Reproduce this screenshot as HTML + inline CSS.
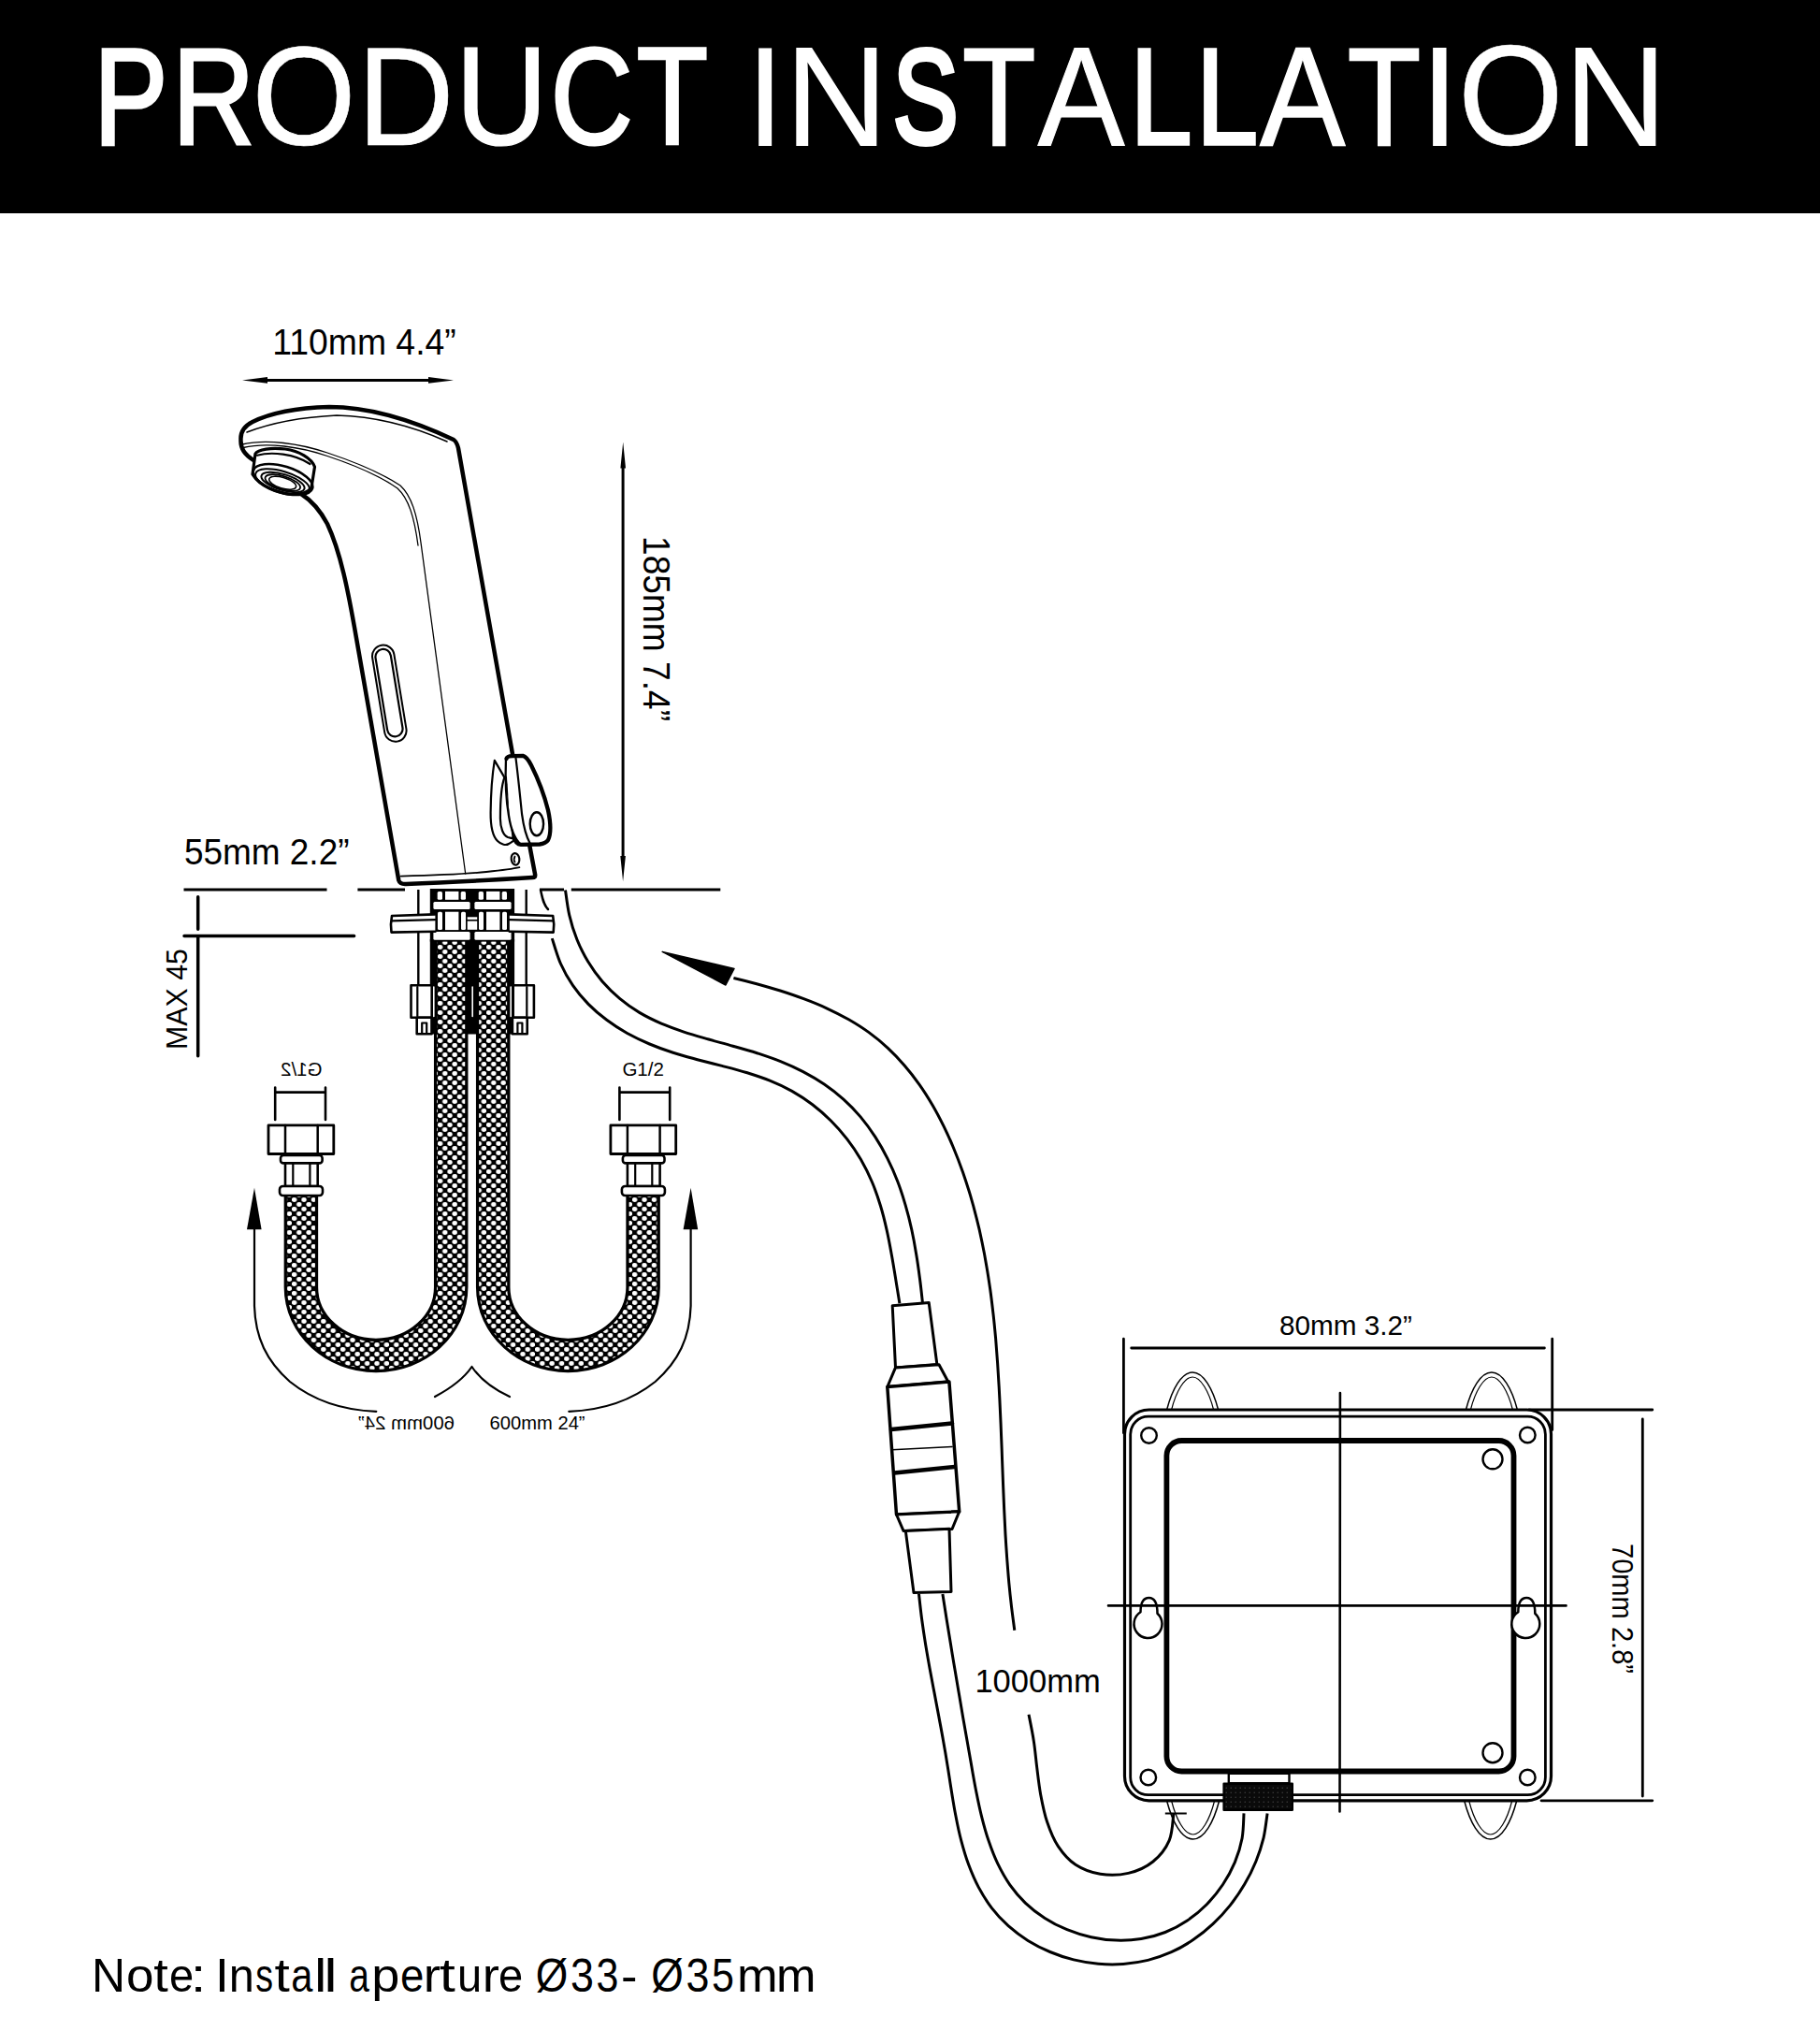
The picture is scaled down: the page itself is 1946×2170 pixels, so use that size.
<!DOCTYPE html>
<html><head><meta charset="utf-8"><title>Product Installation</title>
<style>
html,body{margin:0;padding:0;background:#fff;}
body{width:1946px;height:2170px;overflow:hidden;}
svg{display:block;}
text{font-family:"Liberation Sans",sans-serif;}
</style></head><body>
<svg width="1946" height="2170" viewBox="0 0 1946 2170">
<defs>
<pattern id="braid" width="10.4" height="10" patternUnits="userSpaceOnUse">
<rect width="10.4" height="10" fill="#000"/>
<ellipse cx="2.6" cy="2.5" rx="2.75" ry="2.45" fill="#fff"/>
<ellipse cx="7.8" cy="7.5" rx="2.75" ry="2.45" fill="#fff"/>
</pattern>
<pattern id="knurl" width="5" height="5" patternUnits="userSpaceOnUse">
<rect width="5" height="5" fill="#0a0a0a"/>
<circle cx="1.2" cy="1.2" r="0.7" fill="#444"/>
</pattern>
</defs>
<rect x="0" y="0" width="1946" height="228" fill="#000"/>
<text transform="translate(100.62,153.84) scale(0.8048,1)" font-size="146.63" fill="#fff" stroke="#fff" stroke-width="3.72" stroke-linejoin="miter">P</text>
<text transform="translate(184.32,154.11) scale(0.8268,1)" font-size="147.41" fill="#fff" stroke="#fff" stroke-width="3.18" stroke-linejoin="miter">R</text>
<text transform="translate(269.22,155.37) scale(0.9490,1)" font-size="151.08" fill="#fff" stroke="#fff" stroke-width="0.66" stroke-linejoin="miter">O</text>
<text transform="translate(381.66,155.40) scale(0.9531,1)" font-size="151.18" fill="#fff" stroke="#fff" stroke-width="0.59" stroke-linejoin="miter">D</text>
<text transform="translate(486.54,155.07) scale(0.9173,1)" font-size="150.22" fill="#fff" stroke="#fff" stroke-width="1.25" stroke-linejoin="miter">U</text>
<text transform="translate(588.85,154.09) scale(0.8256,1)" font-size="147.36" fill="#fff" stroke="#fff" stroke-width="3.21" stroke-linejoin="miter">C</text>
<text transform="translate(680.52,154.35) scale(0.8479,1)" font-size="148.12" fill="#fff" stroke="#fff" stroke-width="2.70" stroke-linejoin="miter">T</text>
<text transform="translate(800.14,154.62) scale(0.8660,1)" font-size="148.89" fill="#fff" stroke="#fff" stroke-width="2.17" stroke-linejoin="miter">I</text>
<text transform="translate(838.79,155.70) scale(1.0115,1)" font-size="152.04" fill="#fff">N</text>
<text transform="translate(954.87,152.79) scale(0.7290,1)" font-size="143.59" fill="#fff" stroke="#fff" stroke-width="5.81" stroke-linejoin="miter">S</text>
<text transform="translate(1028.93,154.52) scale(0.8636,1)" font-size="148.62" fill="#fff" stroke="#fff" stroke-width="2.35" stroke-linejoin="miter">T</text>
<text transform="translate(1109.42,155.17) scale(0.9271,1)" font-size="150.49" fill="#fff" stroke="#fff" stroke-width="1.07" stroke-linejoin="miter">A</text>
<text transform="translate(1208.14,153.94) scale(0.8126,1)" font-size="146.91" fill="#fff" stroke="#fff" stroke-width="3.53" stroke-linejoin="miter">L</text>
<text transform="translate(1278.80,153.96) scale(0.8142,1)" font-size="146.97" fill="#fff" stroke="#fff" stroke-width="3.49" stroke-linejoin="miter">L</text>
<text transform="translate(1346.93,155.04) scale(0.9141,1)" font-size="150.13" fill="#fff" stroke="#fff" stroke-width="1.31" stroke-linejoin="miter">A</text>
<text transform="translate(1440.73,154.52) scale(0.8636,1)" font-size="148.62" fill="#fff" stroke="#fff" stroke-width="2.35" stroke-linejoin="miter">T</text>
<text transform="translate(1518.05,155.70) scale(1.0085,1)" font-size="152.04" fill="#fff">I</text>
<text transform="translate(1558.90,155.44) scale(0.9568,1)" font-size="151.28" fill="#fff" stroke="#fff" stroke-width="0.52" stroke-linejoin="miter">O</text>
<text transform="translate(1672.01,155.70) scale(1.0091,1)" font-size="152.04" fill="#fff">N</text>
<text transform="translate(98.00,2128.70) scale(1.0167,1)" font-size="49.13" fill="#000">N</text>
<text transform="translate(134.88,2128.70) scale(1.0777,1)" font-size="49.13" fill="#000">o</text>
<text transform="translate(164.15,2128.70) scale(1.1398,1)" font-size="49.13" fill="#000">t</text>
<text transform="translate(180.90,2128.70) scale(0.9587,1)" font-size="49.13" fill="#000">e</text>
<text transform="translate(203.83,2128.70) scale(1.2185,1)" font-size="49.13" fill="#000">:</text>
<text transform="translate(230.05,2128.70) scale(1.0913,1)" font-size="49.13" fill="#000">I</text>
<text transform="translate(244.66,2128.70) scale(0.9918,1)" font-size="49.13" fill="#000">n</text>
<text transform="translate(273.25,2128.70) scale(0.7656,1)" font-size="49.13" fill="#000">s</text>
<text transform="translate(293.41,2128.70) scale(1.1956,1)" font-size="49.13" fill="#000">t</text>
<text transform="translate(311.13,2128.70) scale(0.8480,1)" font-size="49.13" fill="#000">a</text>
<text transform="translate(335.94,2128.70) scale(1.2274,1)" font-size="49.13" fill="#000">l</text>
<text transform="translate(346.33,2128.70) scale(1.3201,1)" font-size="49.13" fill="#000">l</text>
<text transform="translate(373.35,2128.70) scale(0.7925,1)" font-size="49.13" fill="#000">a</text>
<text transform="translate(397.22,2128.70) scale(1.0999,1)" font-size="49.13" fill="#000">p</text>
<text transform="translate(428.06,2128.70) scale(0.9283,1)" font-size="49.13" fill="#000">e</text>
<text transform="translate(452.79,2128.70) scale(1.1073,1)" font-size="49.13" fill="#000">r</text>
<text transform="translate(469.77,2128.70) scale(1.2514,1)" font-size="49.13" fill="#000">t</text>
<text transform="translate(489.04,2128.70) scale(0.9583,1)" font-size="49.13" fill="#000">u</text>
<text transform="translate(515.69,2128.70) scale(1.1073,1)" font-size="49.13" fill="#000">r</text>
<text transform="translate(533.00,2128.70) scale(0.9587,1)" font-size="49.13" fill="#000">e</text>
<text transform="translate(572.86,2128.70) scale(0.9037,1)" font-size="49.13" fill="#000">Ø</text>
<text transform="translate(610.09,2128.70) scale(0.9144,1)" font-size="49.13" fill="#000">3</text>
<text transform="translate(637.46,2128.70) scale(0.8758,1)" font-size="49.13" fill="#000">3</text>
<text transform="translate(663.97,2128.70) scale(1.0672,1)" font-size="49.13" fill="#000">-</text>
<text transform="translate(696.36,2128.70) scale(0.9037,1)" font-size="49.13" fill="#000">Ø</text>
<text transform="translate(733.59,2128.70) scale(0.9144,1)" font-size="49.13" fill="#000">3</text>
<text transform="translate(760.88,2128.70) scale(0.8758,1)" font-size="49.13" fill="#000">5</text>
<text transform="translate(788.02,2128.70) scale(1.0661,1)" font-size="49.13" fill="#000">m</text>
<text transform="translate(829.92,2128.70) scale(1.0371,1)" font-size="49.13" fill="#000">m</text>
<g fill="#000">
<text x="291.3" y="379.3" font-size="38.5" textLength="196.4" lengthAdjust="spacingAndGlyphs">110mm 4.4”</text>
<text x="196.9" y="923.9" font-size="38" textLength="176.6" lengthAdjust="spacingAndGlyphs">55mm 2.2”</text>
<text transform="translate(687.5,573) rotate(90)" x="0" y="0" font-size="41.5" textLength="198" lengthAdjust="spacingAndGlyphs">185mm 7.4”</text>
<text transform="translate(199.9,1122) rotate(-90)" x="0" y="0" font-size="31" textLength="108" lengthAdjust="spacingAndGlyphs">MAX 45</text>
<text x="1042.4" y="1808.5" font-size="35.5" textLength="134.4" lengthAdjust="spacingAndGlyphs">1000mm</text>
<text x="1368" y="1427" font-size="30" textLength="142" lengthAdjust="spacingAndGlyphs">80mm 3.2”</text>
<text transform="translate(1723.9,1650) rotate(90)" x="0" y="0" font-size="31.5" textLength="139" lengthAdjust="spacingAndGlyphs">70mm 2.8”</text>
<text x="523.6" y="1528.4" font-size="21" textLength="102" lengthAdjust="spacingAndGlyphs">600mm 24”</text>
<text transform="translate(486,1528.4) scale(-1,1)" x="0" y="0" font-size="21" textLength="103" lengthAdjust="spacingAndGlyphs">600mm 24”</text>
<text x="665.4" y="1149.5" font-size="21" textLength="44.5" lengthAdjust="spacingAndGlyphs">G1/2</text>
<text transform="translate(344.6,1149.5) scale(-1,1)" x="0" y="0" font-size="21" textLength="44.5" lengthAdjust="spacingAndGlyphs">G1/2</text>
</g>
<g id="drawing" fill="none" stroke="#000" stroke-linecap="round" stroke-linejoin="round">
<!-- FAUCET -->
<g id="faucet">
<!-- outer outline -->
<path stroke-width="4.5" d="M 271,492 C 262,486 257,480 257.5,470 C 257,461 262,455 270,451 C 290,441 318,436 352,435 C 388,435 430,444 485,470 C 488,472 489,475 490,479 L 548,806"/>
<path stroke-width="4.5" d="M 566.3,904 L 572.2,935.2 C 572.3,937.2 571.3,938 569.5,938.1 C 530,940.5 475,943.5 434,945 C 429.5,945.2 427,943.5 426.3,941 L 381,682 C 372,630 364,590 350,560 C 342,545 333,535 322,528"/>
<!-- top thin line -->
<path stroke-width="1.6" d="M 264,462 C 290,452 320,446 360,444 C 400,445 440,455 478,472"/>
<!-- spout inner thin double line -->
<path stroke-width="1.3" d="M 259,475 C 285,469 320,474 350,484 C 380,494 410,507 428,519 C 440,530 446,550 450,580 L 497.7,934"/>
<path stroke-width="1.3" d="M 260,478.5 C 286,472.5 321,477.5 350,487.5 C 380,497.5 408,510 425,522 C 437,533 443,553 447,583"/>
<!-- bottom thin line -->
<path stroke-width="1.8" d="M 428.8,936.6 C 460,935.8 500,934 520,932 C 535,930.5 548,929 555.4,927.2"/>
<!-- aerator -->
<path stroke-width="3.2" fill="#fff" d="M 270,507 L 273,485 C 276,480 290,478.5 305,480 C 320,482 333,490 336.5,499 L 333,521 C 330,526 322,528.5 312,528.5 C 296,527 278,520 270,507 Z"/>
<path stroke-width="2.2" d="M 275,486.8 C 290,482.5 315,485 331.5,496"/>
<ellipse stroke-width="2.6" cx="302.5" cy="512.5" rx="33" ry="14" transform="rotate(17 302.5 512.5)"/>
<ellipse stroke-width="2" cx="302" cy="515" rx="30" ry="11" transform="rotate(17 302 515)"/>
<ellipse stroke-width="2" cx="302.5" cy="515.5" rx="24" ry="8.5" transform="rotate(17 302.5 515.5)"/>
<ellipse stroke-width="1.8" cx="302.3" cy="516" rx="19.5" ry="7" transform="rotate(17 302.3 516)"/>
<ellipse stroke-width="1.6" cx="302.2" cy="516.2" rx="15" ry="5.8" transform="rotate(17 302.2 516.2)"/>
<!-- sensor window -->
<rect stroke-width="2" x="404.55" y="689.1" width="23.5" height="104.2" rx="11.75" transform="rotate(-9.3 416.3 741.2)"/>
<rect stroke-width="2.2" x="407.75" y="693.35" width="16.5" height="94.5" rx="8.25" transform="rotate(-9.3 416 740.6)"/>
<!-- handle -->
<path stroke-width="2.2" fill="#fff" d="M 528.8,812.9 L 539.3,830.9 L 541,831 L 549,898.8 C 548,899.5 546,901 544,902 C 541,904 536,903 532,899 C 526,893 524.5,880 524.6,868.7 C 524.8,850 526,830 528.8,812.9 Z"/>
<path stroke-width="2.2" d="M 539.3,831.5 C 536,840 534.9,855 534.9,875.1 C 535,885 538,893 543,895 C 546,896 548,896.2 549,896.2"/>
<path stroke-width="0" fill="#fff" d="M 541,810 L 559,808 L 587,870 L 586,900 L 557,903 L 545,880 Z"/>
<path stroke-width="2.3" d="M 541,810 C 540.2,830 541,855 544,872 C 546,885 549,896 557,902.8"/>
<path stroke-width="4.3" d="M 541.5,811 C 542,808.8 544.5,808.2 548,808.1 L 559.2,807.8 C 562,808.5 565,812 568,818 C 575,832 582,850 586,866 C 589,880 589,892 586,898 C 584,901 581,902 577,902.5 L 557,902.8 C 553,902.5 550.5,899 549.6,895"/>
<path stroke-width="2.2" d="M 551.5,810.4 C 554,830 556,850 558,870 C 560,885 563,895 566.9,902"/>
<ellipse stroke-width="2.4" cx="573.9" cy="880.8" rx="7.2" ry="12.5"/>
<!-- screw -->
<ellipse stroke-width="2.2" cx="551" cy="918.3" rx="4.3" ry="6.3" transform="rotate(-8 551 918.3)"/>
<path stroke-width="1.8" d="M 550.5,915.5 C 549.5,917.5 549.5,920 550.5,921.5"/>
</g>

<g id="dims">
<path stroke-width="3" d="M 275,406.4 L 470,406.4"/>
<path fill="#000" stroke="none" d="M 259,406.4 L 286,403 L 286,409.8 Z M 485,406.4 L 458,403 L 458,409.8 Z"/>
<path stroke-width="3" d="M 666.1,495 L 666.1,920"/>
<path fill="#000" stroke="none" d="M 666.2,472.4 L 663.4,500.4 L 669,500.4 Z M 666.1,942.3 L 663.3,915 L 668.9,915 Z"/>
<path stroke-width="3" stroke-linecap="butt" d="M 196.5,951 L 349.5,951 M 382.4,951 L 433,951 M 577,951 L 603,951 M 610.8,951 L 770.3,951"/>
<path stroke-width="2.5" d="M 578,951.3 C 580,960 581,967 586,972"/>
<path stroke-width="3.5" d="M 211.7,958.7 L 211.7,993.2 M 197,1000.6 L 378.6,1000.6 M 211.7,1001 L 211.7,1128.7"/>
</g>
<g id="hoses">
<path stroke="#000" stroke-width="36.5" stroke-linecap="butt" d="M 482.2,1000.0 L 482.2,1376.0 C 482.2,1416.3 446.3,1449.0 402.0,1449.0 C 357.8,1449.0 321.9,1416.3 321.9,1376.0 L 321.9,1277.0"/>
<path stroke="url(#braid)" stroke-width="30" stroke-linecap="butt" d="M 482.2,1000.0 L 482.2,1376.0 C 482.2,1416.3 446.3,1449.0 402.0,1449.0 C 357.8,1449.0 321.9,1416.3 321.9,1376.0 L 321.9,1277.0"/>
<path stroke="#000" stroke-width="36.5" stroke-linecap="butt" d="M 687.6,1277.0 L 687.6,1376.0 C 687.6,1416.3 651.7,1449.0 607.4,1449.0 C 563.1,1449.0 527.2,1416.3 527.2,1376.0 L 527.2,1000.0"/>
<path stroke="url(#braid)" stroke-width="30" stroke-linecap="butt" d="M 687.6,1277.0 L 687.6,1376.0 C 687.6,1416.3 651.7,1449.0 607.4,1449.0 C 563.1,1449.0 527.2,1416.3 527.2,1376.0 L 527.2,1000.0"/>
</g>
<g id="mount">
<rect x="459.8" y="950" width="90.3" height="56.6" fill="#000" stroke="none"/>
<rect x="459.8" y="1004" width="8" height="101.5" fill="#000" stroke="none"/>
<rect x="542.5" y="1004" width="7.6" height="101.5" fill="#000" stroke="none"/>
<rect x="498.4" y="1004" width="13.2" height="101.5" fill="#000" stroke="none"/>
<rect x="467.7" y="952.9" width="5.3" height="8.9" rx="1.5" fill="#fff" stroke="none"/>
<rect x="476.0" y="952.9" width="14.4" height="8.9" fill="#fff" stroke="none"/>
<rect x="492.7" y="952.9" width="5.3" height="8.9" rx="1.5" fill="#fff" stroke="none"/>
<rect x="463.4" y="964.1" width="39.2" height="7.9" rx="1.5" fill="#fff" stroke="none"/>
<rect x="468.0" y="974.7" width="5" height="19.4" rx="1.5" fill="#fff" stroke="none"/>
<rect x="476.0" y="974.7" width="14.4" height="19.4" fill="#fff" stroke="none"/>
<rect x="493.0" y="974.7" width="5" height="19.4" rx="1.5" fill="#fff" stroke="none"/>
<rect x="463.4" y="996.1" width="39.2" height="8.6" rx="1.5" fill="#fff" stroke="none"/>
<rect x="511.7" y="952.9" width="5.3" height="8.9" rx="1.5" fill="#fff" stroke="none"/>
<rect x="520.0" y="952.9" width="14.4" height="8.9" fill="#fff" stroke="none"/>
<rect x="536.7" y="952.9" width="5.3" height="8.9" rx="1.5" fill="#fff" stroke="none"/>
<rect x="507.4" y="964.1" width="39.2" height="7.9" rx="1.5" fill="#fff" stroke="none"/>
<rect x="512.0" y="974.7" width="5" height="19.4" rx="1.5" fill="#fff" stroke="none"/>
<rect x="520.0" y="974.7" width="14.4" height="19.4" fill="#fff" stroke="none"/>
<rect x="537.0" y="974.7" width="5" height="19.4" rx="1.5" fill="#fff" stroke="none"/>
<rect x="507.4" y="996.1" width="39.2" height="8.6" rx="1.5" fill="#fff" stroke="none"/>
<rect x="499.7" y="980.3" width="10.5" height="2.6" fill="#fff" stroke="none"/>
<rect x="499.7" y="984.6" width="10.5" height="9.2" fill="#fff" stroke="none"/>
<path stroke="#fff" stroke-width="1.6" d="M 505.2,1055 L 505.2,1086.5 M 463.8,1055 L 463.8,1086.5 M 546.2,1055 L 546.2,1086.5"/>
<path stroke-width="2.4" stroke-linecap="butt" d="M 447.3,951 L 447.3,978 M 447.3,996 L 447.3,1053 M 562.7,951 L 562.7,978 M 562.7,996 L 562.7,1053"/>
<path stroke-width="2.6" fill="#fff" d="M 465.4,977.4 L 419,979 C 418,984 417.5,990 418.5,996.6 L 465.4,995.8"/>
<path stroke-width="2.2" d="M 419,984.3 L 465.4,983.2"/>
<path stroke-width="2.6" fill="#fff" d="M 544.8,977.4 L 591.2,979 C 592.2,984 592.7,990 591.7,996.6 L 544.8,995.8"/>
<path stroke-width="2.2" d="M 591.2,984.3 L 544.8,983.2"/>
<rect x="439.5" y="1053.2" width="22.2" height="34.6" fill="#fff" stroke-width="2.6"/>
<rect x="445.7" y="1087.8" width="15.8" height="17.5" fill="#fff" stroke-width="2.6"/>
<path stroke-width="2.2" d="M 451.2,1104 L 451.2,1093.5 L 456.2,1093.5 L 456.2,1104"/>
<rect x="548.7" y="1053.2" width="22.2" height="34.6" fill="#fff" stroke-width="2.6"/>
<rect x="547.9" y="1087.8" width="15.8" height="17.5" fill="#fff" stroke-width="2.6"/>
<path stroke-width="2.2" d="M 553.4,1104 L 553.4,1093.5 L 558.4,1093.5 L 558.4,1104"/>
<path stroke-width="2.2" d="M 446.3,1055 L 446.3,1086 M 563.3,1055 L 563.3,1086"/>
</g>
<g id="fittings">
<rect x="287.0" y="1202.9" width="69.8" height="30.6" fill="#fff" stroke-width="2.8"/>
<path stroke-width="2.5" d="M 305.0,1203 L 305.0,1233.5 M 339.7,1203 L 339.7,1233.5"/>
<rect x="300.0" y="1235" width="44.6" height="8.4" rx="3" fill="#fff" stroke-width="2.6"/>
<rect x="305.0" y="1243.4" width="34.7" height="24.6" fill="#fff" stroke-width="2.6"/>
<path stroke-width="2.2" d="M 313.3,1244 L 313.3,1267.5 M 331.4,1244 L 331.4,1267.5"/>
<rect x="299.0" y="1268" width="46" height="10" rx="3.5" fill="#fff" stroke-width="2.6"/>
<path stroke-width="2.6" d="M 294.2,1162.6 L 294.2,1197 M 348.0,1162.6 L 348.0,1197 M 294.2,1167.6 L 348.0,1167.6"/>
<rect x="652.9" y="1202.9" width="69.8" height="30.6" fill="#fff" stroke-width="2.8"/>
<path stroke-width="2.5" d="M 670.9,1203 L 670.9,1233.5 M 705.6,1203 L 705.6,1233.5"/>
<rect x="665.9" y="1235" width="44.6" height="8.4" rx="3" fill="#fff" stroke-width="2.6"/>
<rect x="670.9" y="1243.4" width="34.7" height="24.6" fill="#fff" stroke-width="2.6"/>
<path stroke-width="2.2" d="M 679.2,1244 L 679.2,1267.5 M 697.3,1244 L 697.3,1267.5"/>
<rect x="664.9" y="1268" width="46" height="10" rx="3.5" fill="#fff" stroke-width="2.6"/>
<path stroke-width="2.6" d="M 662.4,1162.6 L 662.4,1197 M 716.2,1162.6 L 716.2,1197 M 662.4,1167.6 L 716.2,1167.6"/>
</g>
<g id="harrows">
<path stroke-width="2.2" d="M 272,1300 L 272,1396 C 273,1430 285,1455 310,1477 C 335,1497 365,1507.5 402.3,1508.8"/>
<path fill="#000" stroke="none" d="M 272,1269.8 L 264,1314.3 L 279.6,1314.3 Z"/>
<path stroke-width="2.2" d="M 738.6,1300 L 738.6,1396 C 737.6,1430 725.6,1455 700.6,1477 C 675.6,1497 645.6,1507.5 608.3,1508.8"/>
<path fill="#000" stroke="none" d="M 738.6,1269.8 L 730.6,1314.3 L 746.2,1314.3 Z"/>
<path stroke-width="2.2" d="M 465,1493 C 480,1485 495,1475 504.5,1461 C 514,1475 530,1486 545,1493"/>
</g>
<g id="cable" stroke-width="3" stroke-linecap="butt">
<path d="M 604.5,951.4 C 605.2,955.9 606.7,969.6 608.8,978.4 C 610.8,987.2 613.6,995.9 616.9,1004.2 C 620.2,1012.4 624.2,1020.5 628.8,1028.0 C 633.3,1035.5 638.5,1042.6 644.1,1049.2 C 649.8,1055.7 656.0,1061.9 662.6,1067.4 C 669.2,1073.0 676.3,1078.0 683.7,1082.4 C 691.1,1086.8 699.0,1090.6 707.1,1094.1 C 715.1,1097.5 723.5,1100.4 731.9,1103.3 C 740.4,1106.1 749.1,1108.5 757.7,1111.0 C 766.3,1113.5 775.1,1115.7 783.7,1118.2 C 792.3,1120.6 801.0,1123.0 809.5,1125.7 C 817.9,1128.5 826.4,1131.3 834.6,1134.6 C 842.8,1137.9 850.9,1141.5 858.7,1145.6 C 866.5,1149.7 874.1,1154.1 881.3,1159.0 C 888.5,1163.9 895.4,1169.3 901.9,1175.1 C 908.4,1180.9 914.4,1187.2 920.1,1193.9 C 925.7,1200.6 930.9,1207.7 935.7,1215.1 C 940.5,1222.5 944.9,1230.3 948.9,1238.3 C 952.9,1246.2 956.5,1254.4 959.7,1262.7 C 962.9,1271.0 965.6,1279.5 968.1,1288.1 C 970.6,1296.6 972.8,1305.3 974.7,1314.0 C 976.6,1322.7 978.2,1331.5 979.6,1340.2 C 981.1,1348.9 982.3,1357.7 983.4,1366.3 C 984.6,1375.0 985.9,1387.8 986.4,1392.1"/>
<path d="M 590.3,1003.1 C 591.8,1007.6 595.7,1021.6 599.4,1030.0 C 603.1,1038.4 607.5,1046.1 612.5,1053.3 C 617.5,1060.6 623.1,1067.2 629.1,1073.4 C 635.1,1079.5 641.7,1085.2 648.7,1090.3 C 655.6,1095.5 663.0,1100.2 670.6,1104.5 C 678.3,1108.7 686.3,1112.6 694.5,1116.0 C 702.7,1119.5 711.2,1122.5 719.7,1125.2 C 728.3,1128.0 737.0,1130.3 745.7,1132.7 C 754.5,1135.0 763.3,1137.1 772.0,1139.4 C 780.8,1141.7 789.5,1143.9 798.0,1146.5 C 806.5,1149.2 815.0,1151.8 823.1,1155.2 C 831.3,1158.5 839.2,1162.2 846.8,1166.4 C 854.4,1170.7 861.7,1175.5 868.7,1180.8 C 875.6,1186.1 882.2,1191.8 888.4,1198.0 C 894.6,1204.1 900.4,1210.8 905.7,1217.7 C 911.1,1224.6 916.0,1232.0 920.5,1239.6 C 924.9,1247.3 928.9,1255.3 932.4,1263.5 C 935.9,1271.7 938.8,1280.2 941.4,1288.8 C 944.1,1297.4 946.2,1306.3 948.2,1315.1 C 950.2,1323.9 951.8,1332.9 953.4,1341.7 C 955.0,1350.5 956.4,1359.3 957.8,1367.9 C 959.2,1376.5 961.2,1389.0 961.9,1393.2"/>
<path d="M 784.4,1045.5 C 788.6,1046.5 800.8,1049.5 809.1,1051.7 C 817.4,1054.0 825.9,1056.4 834.2,1059.0 C 842.6,1061.7 851.1,1064.5 859.3,1067.7 C 867.6,1070.8 875.9,1074.1 883.9,1077.8 C 891.9,1081.5 899.8,1085.5 907.4,1089.8 C 915.0,1094.2 922.4,1098.8 929.4,1103.9 C 936.4,1109.0 943.0,1114.5 949.3,1120.3 C 955.6,1126.1 961.5,1132.4 967.1,1138.9 C 972.8,1145.4 978.0,1152.2 983.0,1159.3 C 988.0,1166.3 992.6,1173.7 997.0,1181.2 C 1001.4,1188.7 1005.4,1196.5 1009.3,1204.3 C 1013.1,1212.1 1016.7,1220.2 1020.0,1228.2 C 1023.4,1236.3 1026.5,1244.5 1029.4,1252.7 C 1032.2,1260.8 1034.9,1269.1 1037.4,1277.4 C 1039.9,1285.7 1042.1,1294.0 1044.2,1302.4 C 1046.4,1310.8 1048.3,1319.2 1050.0,1327.7 C 1051.8,1336.1 1053.4,1344.6 1054.8,1353.2 C 1056.3,1361.7 1057.6,1370.3 1058.8,1378.8 C 1060.0,1387.4 1061.0,1396.0 1062.0,1404.7 C 1063.0,1413.3 1063.8,1422.0 1064.6,1430.7 C 1065.3,1439.4 1066.0,1448.1 1066.6,1456.8 C 1067.2,1465.5 1067.7,1474.2 1068.2,1482.9 C 1068.7,1491.7 1069.1,1500.4 1069.5,1509.2 C 1069.9,1517.9 1070.3,1526.7 1070.6,1535.4 C 1071.0,1544.2 1071.3,1552.9 1071.6,1561.7 C 1071.9,1570.4 1072.2,1579.1 1072.6,1587.9 C 1072.9,1596.6 1073.3,1605.3 1073.7,1614.0 C 1074.1,1622.7 1074.5,1631.4 1075.0,1640.1 C 1075.5,1648.7 1076.1,1657.4 1076.7,1666.0 C 1077.4,1674.6 1078.0,1683.2 1078.8,1691.8 C 1079.6,1700.4 1080.5,1708.9 1081.5,1717.4 C 1082.5,1725.9 1084.3,1738.6 1084.8,1742.8"/>
<path fill="#000" stroke="#000" stroke-width="1.5" stroke-linejoin="round" d="M 708.2,1017.4 L 785,1035.5 L 775.9,1053 Z"/>
<path d="M 1007.9,1703.9 C 1008.6,1708.3 1010.7,1721.9 1012.1,1730.7 C 1013.5,1739.6 1014.9,1748.4 1016.4,1757.1 C 1017.8,1765.8 1019.2,1774.4 1020.7,1783.1 C 1022.1,1791.7 1023.6,1800.3 1025.1,1809.0 C 1026.6,1817.6 1028.0,1826.2 1029.5,1834.9 C 1031.0,1843.6 1032.6,1852.3 1034.1,1861.1 C 1035.6,1869.9 1037.2,1878.8 1038.8,1887.8 C 1040.3,1896.7 1041.9,1905.8 1043.7,1914.8 C 1045.5,1923.8 1047.3,1932.9 1049.6,1941.8 C 1051.8,1950.6 1054.2,1959.4 1057.1,1967.8 C 1060.0,1976.3 1063.1,1984.6 1066.9,1992.4 C 1070.7,2000.2 1074.9,2007.8 1079.8,2014.8 C 1084.8,2021.8 1090.3,2028.4 1096.5,2034.3 C 1102.7,2040.3 1109.8,2045.7 1117.2,2050.4 C 1124.6,2055.2 1132.6,2059.3 1140.9,2062.7 C 1149.1,2066.1 1157.9,2068.8 1166.7,2070.7 C 1175.4,2072.6 1184.5,2073.8 1193.4,2074.1 C 1202.4,2074.4 1211.5,2073.9 1220.2,2072.5 C 1228.9,2071.1 1237.7,2068.8 1245.9,2065.5 C 1254.1,2062.3 1262.1,2058.0 1269.5,2053.0 C 1276.9,2048.0 1284.0,2042.1 1290.3,2035.7 C 1296.7,2029.2 1302.5,2022.0 1307.5,2014.5 C 1312.5,2007.0 1316.9,1998.9 1320.4,1990.6 C 1323.8,1982.3 1326.5,1973.6 1328.1,1964.9 C 1329.7,1956.2 1329.7,1942.8 1330.0,1938.4"/>
<path d="M 982.5,1703.9 C 983.0,1708.4 984.4,1721.8 985.6,1730.7 C 986.8,1739.5 988.1,1748.3 989.5,1757.0 C 990.9,1765.7 992.5,1774.4 994.0,1783.0 C 995.6,1791.7 997.2,1800.3 998.9,1808.9 C 1000.5,1817.6 1002.2,1826.2 1003.8,1834.9 C 1005.4,1843.5 1007.1,1852.2 1008.6,1861.0 C 1010.2,1869.7 1011.7,1878.5 1013.1,1887.4 C 1014.6,1896.3 1015.8,1905.3 1017.3,1914.2 C 1018.7,1923.1 1020.1,1932.1 1021.9,1941.0 C 1023.6,1949.9 1025.4,1958.7 1027.7,1967.4 C 1030.0,1976.1 1032.5,1984.8 1035.6,1993.1 C 1038.7,2001.4 1042.2,2009.7 1046.3,2017.4 C 1050.5,2025.2 1055.1,2032.7 1060.4,2039.6 C 1065.7,2046.5 1071.7,2052.9 1078.1,2058.7 C 1084.6,2064.5 1091.7,2069.8 1099.1,2074.4 C 1106.6,2079.0 1114.5,2083.1 1122.7,2086.5 C 1130.8,2089.9 1139.4,2092.8 1148.0,2094.9 C 1156.6,2097.0 1165.6,2098.5 1174.4,2099.3 C 1183.3,2100.0 1192.3,2100.1 1201.1,2099.5 C 1209.9,2098.8 1218.8,2097.5 1227.4,2095.4 C 1236.0,2093.2 1244.4,2090.3 1252.5,2086.7 C 1260.6,2083.1 1268.4,2078.6 1275.8,2073.6 C 1283.2,2068.6 1290.3,2062.9 1296.9,2056.7 C 1303.5,2050.5 1309.7,2043.7 1315.4,2036.6 C 1321.0,2029.5 1326.3,2021.9 1330.8,2014.1 C 1335.4,2006.3 1339.5,1998.0 1342.9,1989.7 C 1346.2,1981.4 1349.0,1972.8 1351.1,1964.3 C 1353.1,1955.7 1354.4,1942.7 1355.1,1938.4"/>
<path d="M 1100.0,1832.8 C 1100.9,1837.5 1103.9,1851.7 1105.3,1861.1 C 1106.8,1870.5 1107.5,1879.8 1108.7,1889.4 C 1109.9,1898.9 1110.9,1908.7 1112.7,1918.4 C 1114.5,1928.0 1116.5,1938.3 1119.6,1947.5 C 1122.7,1956.7 1126.3,1966.0 1131.4,1973.6 C 1136.5,1981.2 1142.5,1988.3 1150.0,1993.3 C 1157.5,1998.2 1167.1,2001.8 1176.5,2003.3 C 1185.9,2004.8 1197.0,2004.6 1206.4,2002.4 C 1215.8,2000.2 1225.5,1995.9 1232.8,1990.0 C 1240.1,1984.2 1246.5,1976.0 1250.2,1967.4 C 1253.9,1958.7 1254.1,1943.2 1254.9,1938.3"/>
<path stroke-width="2" d="M 1245.8,1938.5 L 1268.8,1938.5"/>
</g>
<g id="connector" fill="#fff">
<path stroke-width="3" d="M 954.2,1395.8 L 993.2,1392.5 L 1001.9,1458.6 L 957.5,1461.9 Z"/>
<path stroke-width="3" d="M 957.5,1461.9 L 1004,1458.8 L 1013.8,1477 L 948.8,1482.5 Z"/>
<path stroke-width="3.5" d="M 948.8,1482.5 L 1014.9,1477 L 1025.7,1615.8 L 958.5,1619 Z"/>
<path stroke-width="3" d="M 958.5,1619 L 1025.7,1615.8 L 1018,1634.5 L 966,1636.4 Z"/>
<path stroke-width="3" d="M 968.3,1636.4 L 1015,1634.3 L 1017,1701.5 L 977,1702.5 Z"/>
<path stroke-width="4.5" d="M 953,1528 L 1018,1521.5 M 956.4,1574.6 L 1020.3,1568"/>
<path stroke-width="1.6" d="M 954,1549.7 L 1018,1546.5"/>
</g>
<g id="box">
<path stroke-width="2.8" d="M 1201.4,1431.2 L 1201.4,1531.8 M 1659.7,1431.2 L 1659.7,1528.5 M 1209.7,1441 L 1651.4,1441"/>
<path stroke-width="2.8" d="M 1635,1507 L 1766.8,1507 M 1648,1924.8 L 1766.8,1924.8 M 1756.3,1517 L 1756.3,1920"/>
<path stroke-width="1.5" d="M 1247.6,1507 C 1253.6,1484 1263.6,1467 1275.1,1467 C 1286.6,1467 1296.6,1484 1302.6,1507"/>
<path stroke-width="1.2" d="M 1252.6,1507 C 1257.6,1487 1266.6,1472 1275.1,1472 C 1283.6,1472 1292.6,1487 1297.6,1507"/>
<path stroke-width="1.5" d="M 1567.4,1507 C 1573.4,1484 1583.4,1467 1594.9,1467 C 1606.4,1467 1616.4,1484 1622.4,1507"/>
<path stroke-width="1.2" d="M 1572.4,1507 C 1577.4,1487 1586.4,1472 1594.9,1472 C 1603.4,1472 1612.4,1487 1617.4,1507"/>
<path stroke-width="1.5" d="M 1247.6,1925 C 1253.6,1948 1263.6,1966 1275.6,1966 C 1287.6,1966 1297.6,1948 1303.6,1925"/>
<path stroke-width="1.2" d="M 1252.6,1925 C 1257.6,1945 1266.6,1961 1275.6,1961 C 1284.6,1961 1293.6,1945 1298.6,1925"/>
<path stroke-width="1.5" d="M 1565.7,1925 C 1571.7,1948 1581.7,1966 1593.7,1966 C 1605.7,1966 1615.7,1948 1621.7,1925"/>
<path stroke-width="1.2" d="M 1570.7,1925 C 1575.7,1945 1584.7,1961 1593.7,1961 C 1602.7,1961 1611.7,1945 1616.7,1925"/>
<rect x="1202.5" y="1507" width="456" height="417.8" rx="26" fill="#fff" stroke-width="3.2"/>
<rect x="1208.7" y="1514.2" width="443.7" height="404.5" rx="19" stroke-width="2.8"/>
<rect x="1247.4" y="1540" width="371.1" height="353.5" rx="16" stroke-width="5.8"/>
<circle cx="1228.5" cy="1534.5" r="8.3" fill="#fff" stroke-width="2.4"/>
<circle cx="1633.3" cy="1534.0" r="8.3" fill="#fff" stroke-width="2.4"/>
<circle cx="1596.0" cy="1559.8" r="10.5" fill="#fff" stroke-width="2.4"/>
<circle cx="1227.8" cy="1900.0" r="8.3" fill="#fff" stroke-width="2.4"/>
<circle cx="1633.3" cy="1900.0" r="8.3" fill="#fff" stroke-width="2.4"/>
<circle cx="1596.0" cy="1873.7" r="10.5" fill="#fff" stroke-width="2.4"/>
<path stroke-width="2.5" fill="#fff" d="M 1219.5,1723.3 C 1219.5,1713 1223.0,1708 1228.5,1708 C 1234.0,1708 1237.5,1713 1237.5,1724.8 A 15 15 0 1 1 1219.5,1723.3 Z"/>
<path stroke-width="2.5" fill="#fff" d="M 1623.3,1723.3 C 1623.3,1713 1626.8,1708 1632.3,1708 C 1637.8,1708 1641.3,1713 1641.3,1724.8 A 15 15 0 1 1 1623.3,1723.3 Z"/>
<path stroke-width="2.6" d="M 1432.9,1489 L 1432.5,1936.4 M 1185,1716.4 L 1674.5,1716.4"/>
<rect x="1313.8" y="1895.8" width="64.7" height="10.4" fill="#fff" stroke-width="2.4"/>
<rect x="1308.6" y="1906.7" width="73.2" height="28" fill="url(#knurl)" stroke-width="2.4"/>
</g>
</g>
</svg>
</body></html>
